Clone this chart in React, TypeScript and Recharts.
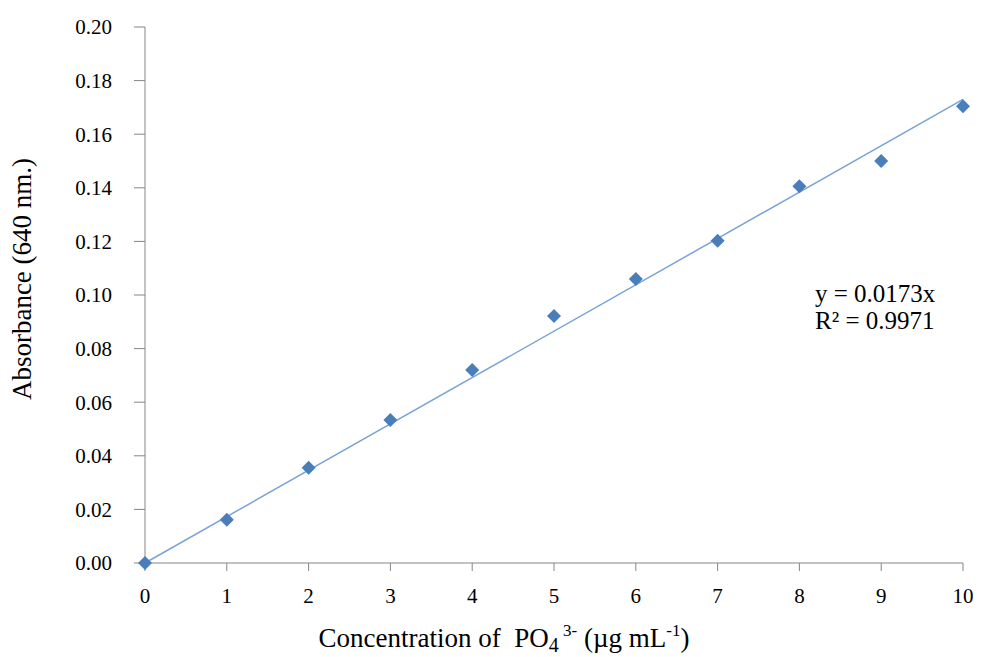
import React from 'react';
import { ScatterChart, Scatter, XAxis, YAxis } from 'recharts';

const concentrations = [0, 1, 2, 3, 4, 5, 6, 7, 8, 9, 10];
const absorbance = [0, 0.0161, 0.0355, 0.0534, 0.072, 0.0922, 0.106, 0.1202, 0.1406, 0.15, 0.1704];
const slope = 0.0173;
const rSquared = '0.9971';
const xTicks = [0, 1, 2, 3, 4, 5, 6, 7, 8, 9, 10];
const yTicks = [0, 0.02, 0.04, 0.06, 0.08, 0.1, 0.12, 0.14, 0.16, 0.18, 0.2];

const points = concentrations.map((x, i) => ({ x, y: absorbance[i] }));
const trend = [
  { x: 0, y: 0 },
  { x: 10, y: slope * 10 },
];

const FONT = '"Liberation Serif", "Times New Roman", serif';
const AXIS = '#868686';

const Diamond = (props: any) => {
  const { cx, cy } = props;
  const r = 7;
  return (
    <polygon
      points={`${cx},${cy - r} ${cx + r},${cy} ${cx},${cy + r} ${cx - r},${cy}`}
      fill="#4a7ebb"
    />
  );
};

const XTitle = () => (
  <text x={504 - 8} y={639} textAnchor="middle" fontFamily={FONT} fontSize={27} fill="#000">
    Concentration of{'\u00a0\u00a0'}PO
    <tspan fontSize={20} dy={5}>4</tspan>
    <tspan fontSize={17} dy={-16}>{'\u00a0'}3-</tspan>
    <tspan dy={11}>{'\u00a0'}(µg mL</tspan>
    <tspan fontSize={17} dy={-11}>-1</tspan>
    <tspan dy={11}>)</tspan>
  </text>
);

const YTitle = () => (
  <text
    x={23}
    y={271}
    transform="rotate(-90, 23, 271)"
    textAnchor="middle"
    fontFamily={FONT}
    fontSize={27}
    fill="#000"
  >
    Absorbance (640 nm.)
  </text>
);

export default function App() {
  return (
    <div style={{ position: 'relative', width: 973, height: 649 }}>
      <ScatterChart width={973} height={649} margin={{ top: 19, right: 18, bottom: 0, left: 0 }}>
        <XAxis
          type="number"
          dataKey="x"
          domain={[0, 10]}
          ticks={xTicks}
          height={94}
          stroke={AXIS}
          tickSize={8}
          tickMargin={17}
          tick={{ fill: '#000', fontFamily: FONT, fontSize: 21 }}
          label={{ content: XTitle }}
        />
        <YAxis
          type="number"
          dataKey="y"
          domain={[0, 0.2]}
          ticks={yTicks}
          width={137}
          stroke={AXIS}
          tickSize={11}
          tickMargin={22}
          tickFormatter={(v: number) => v.toFixed(2)}
          tick={{ fill: '#000', fontFamily: FONT, fontSize: 21 }}
          label={{ content: YTitle }}
        />
        <Scatter
          data={trend}
          line={{ stroke: '#7aa3d6', strokeWidth: 1.5 }}
          shape={() => <g />}
          isAnimationActive={false}
          legendType="none"
        />
        <Scatter data={points} shape={Diamond} isAnimationActive={false} />
      </ScatterChart>
      <div
        style={{
          position: 'absolute',
          left: 807,
          top: 272,
          fontFamily: FONT,
          fontSize: 25,
          lineHeight: '27px',
          color: '#000',
          whiteSpace: 'nowrap',
        }}
      >
        <div>y = {slope}x</div>
        <div>R² = {rSquared}</div>
      </div>
    </div>
  );
}
